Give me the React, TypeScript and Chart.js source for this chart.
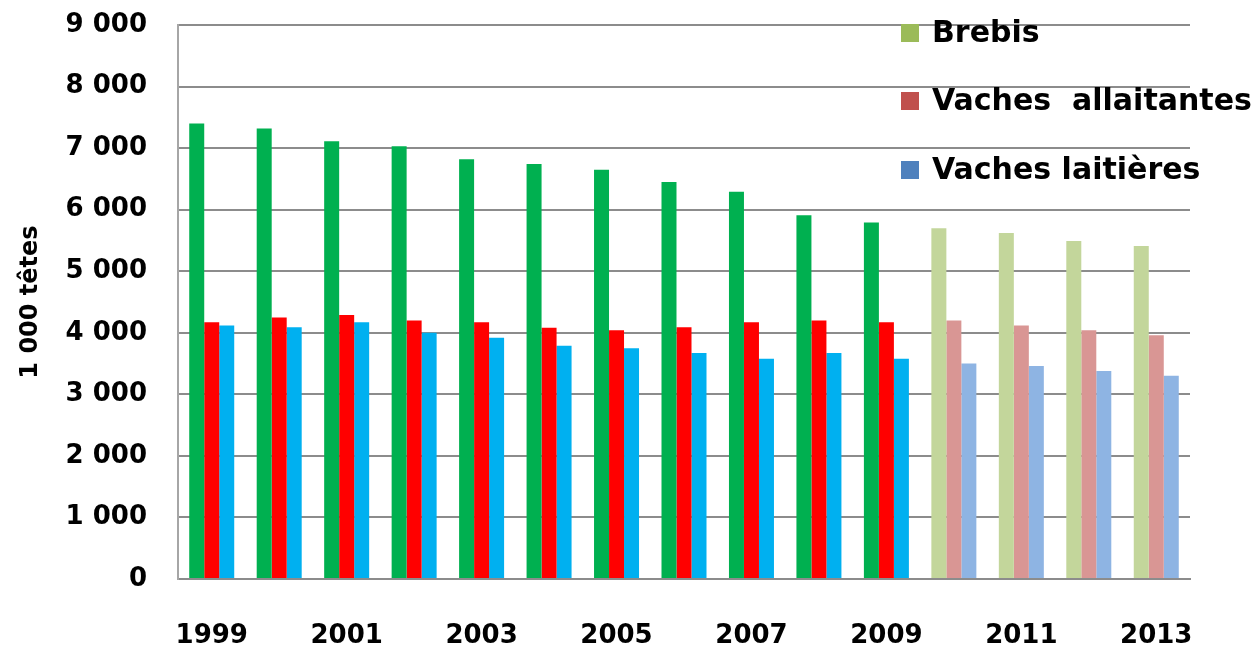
import React, { useEffect, useRef } from "react";
import { Chart, registerables } from "chart.js";

Chart.register(...registerables);

const years = ["1999","2000","2001","2002","2003","2004","2005","2006","2007","2008","2009","2010","2011","2012","2013"];
const brebis = [7400, 7320, 7110, 7030, 6820, 6740, 6650, 6450, 6290, 5910, 5790, 5700, 5620, 5490, 5410];
const vachesAllaitantes = [4170, 4250, 4290, 4200, 4170, 4080, 4040, 4090, 4170, 4200, 4170, 4200, 4120, 4040, 3960];
const vachesLaitieres = [4120, 4090, 4170, 4000, 3920, 3790, 3750, 3670, 3580, 3670, 3580, 3500, 3460, 3380, 3300];
const seriesLabels = ["Brebis", "Vaches  allaitantes", "Vaches laitières"];
const solidColors = ["#00B050", "#FF0000", "#00B0F0"];
const fadedColors = ["#C3D69B", "#D99694", "#8EB4E3"];
const legendColors = ["#9BBB59", "#C0504D", "#4F81BD"];
const firstFadedYear = "2010";
const yAxisTitle = "1 000 têtes";

const FONT = "'DejaVu Sans', sans-serif";

const legendPlugin = {
  id: "customLegend",
  afterDraw(chart: any) {
    const ctx = chart.ctx;
    const rowsY = [33, 101, 170];
    ctx.save();
    ctx.font = `bold 30px ${FONT}`;
    ctx.textBaseline = "middle";
    ctx.textAlign = "left";
    chart.data.datasets.forEach((ds: any, i: number) => {
      const y = rowsY[i];
      ctx.fillStyle = legendColors[i];
      ctx.fillRect(901, y - 9, 18, 18);
      ctx.fillStyle = "#000";
      ctx.fillText(ds.label, 932, y + 1);
    });
    ctx.restore();
  },
};

export default function App() {
  const ref = useRef<HTMLCanvasElement | null>(null);
  useEffect(() => {
    if (!ref.current) return;
    const fadeIdx = years.indexOf(firstFadedYear);
    const colorsFor = (s: number) => years.map((_, i) => (i >= fadeIdx ? fadedColors[s] : solidColors[s]));
    const seriesData = [brebis, vachesAllaitantes, vachesLaitieres];
    const chart = new Chart(ref.current, {
      type: "bar",
      data: {
        labels: years,
        datasets: seriesData.map((d, s) => ({
          label: seriesLabels[s],
          data: d,
          backgroundColor: colorsFor(s),
          borderWidth: 0,
          categoryPercentage: 0.667,
          barPercentage: 1,
        })),
      },
      options: {
        responsive: false,
        animation: false,
        devicePixelRatio: 1,
        layout: { padding: { top: 25, right: 67, left: 0, bottom: 0 } },
        plugins: { legend: { display: false }, tooltip: { enabled: false } },
        scales: {
          x: {
            grid: { display: false, drawTicks: false },
            border: { display: true, color: "#8c8c8c", width: 2 },
            ticks: {
              autoSkip: false,
              maxRotation: 0,
              padding: 42,
              color: "#000",
              font: { family: FONT, size: 26, weight: "bold" },
              callback: (_v: any, i: number) => (i % 2 === 0 ? years[i] : ""),
            },
            afterFit: (scale: any) => { scale.height = 68; },
          },
          y: {
            min: 0,
            max: 9000,
            ticks: {
              stepSize: 1000,
              padding: 0,
              color: "#000",
              font: { family: FONT, size: 26, weight: "bold" },
              callback: (v: any) => String(v).replace(/\B(?=(\d{3})+(?!\d))/g, " "),
            },
            grid: { color: "#8c8c8c", lineWidth: 2, drawTicks: true, tickLength: 31, tickColor: "rgba(0,0,0,0)" },
            border: { display: true, color: "#a6a6a6", width: 2 },
            title: {
              display: true,
              text: yAxisTitle,
              color: "#000",
              font: { family: FONT, size: 24, weight: "bold" },
              padding: { top: 16, bottom: 0 },
            },
            afterFit: (scale: any) => { scale.width = 178; },
          },
        },
      },
      plugins: [legendPlugin],
    });
    return () => chart.destroy();
  }, []);
  return (
    <div style={{ position: "fixed", left: 0, top: 0, width: 1257, height: 647, background: "#fff" }}>
      <canvas ref={ref} width={1257} height={647} />
    </div>
  );
}
